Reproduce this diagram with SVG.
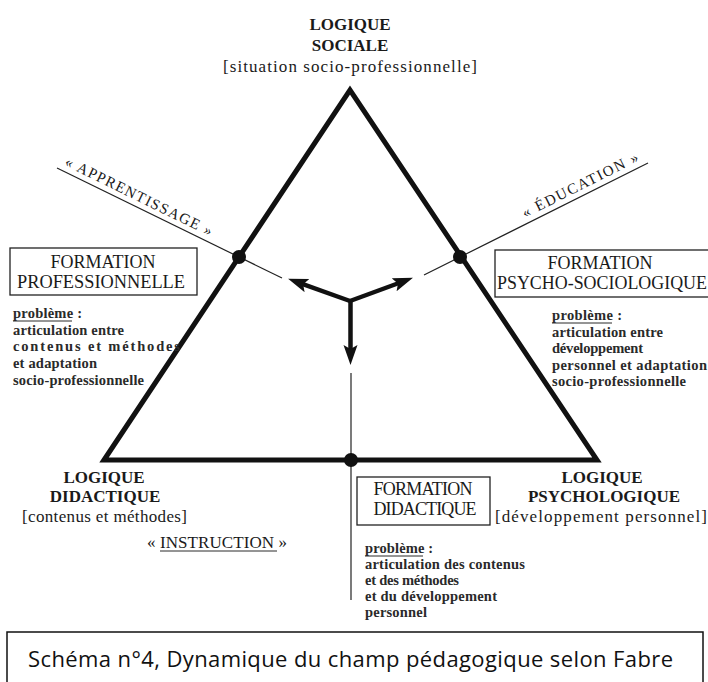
<svg xmlns="http://www.w3.org/2000/svg" width="708" height="682" viewBox="0 0 708 682">
<style>
.lab{font-family:"Liberation Serif","Times New Roman",serif;font-weight:bold;font-size:17px;fill:#1a1a1a;text-anchor:middle}
.br{font-family:"Liberation Serif","Times New Roman",serif;font-size:17px;fill:#1a1a1a}
.box{fill:none;stroke:#222;stroke-width:1.3}
.bt{font-family:"Liberation Serif","Times New Roman",serif;font-size:18px;fill:#1a1a1a;text-anchor:middle}
.pb{font-family:"Liberation Serif","Times New Roman",serif;font-size:14.5px;font-weight:bold;fill:#2a2a2a}
.thin{stroke:#222;stroke-width:1.2;fill:none}
.ul{stroke:#2a2a2a;stroke-width:1}
.rot{font-family:"Liberation Serif","Times New Roman",serif;font-size:15px;fill:#1a1a1a}
.arr{stroke:#111;stroke-width:4.5;fill:none}
.dot{fill:#111}
</style>
<defs>
<marker id="ah" markerUnits="userSpaceOnUse" markerWidth="22" markerHeight="16" refX="8" refY="7" orient="auto">
<path d="M0,0 L20,7 L0,14 L4,7 z" fill="#111"/>
</marker>
</defs>
<rect width="708" height="682" fill="#fff"/>

<g id="connectors">
<line class="thin" x1="57" y1="168" x2="282" y2="278"/>
<line class="thin" x1="648" y1="163" x2="424" y2="275"/>
<line class="thin" x1="351" y1="373" x2="351" y2="600"/>
<line class="arr" x1="350" y1="301" x2="299.4" y2="282.9" marker-end="url(#ah)"/>
<line class="arr" x1="350" y1="301" x2="401.7" y2="282" marker-end="url(#ah)"/>
<line class="arr" x1="350.5" y1="299" x2="350.5" y2="353" marker-end="url(#ah)"/>
</g>

<g id="triangle">
<path d="M104,460 L350,90 L597,460 Z" fill="none" stroke="#111" stroke-width="5" stroke-linejoin="miter"/>
<circle class="dot" cx="239" cy="257" r="7"/>
<circle class="dot" cx="460" cy="257" r="7"/>
<circle class="dot" cx="351" cy="460" r="7"/>
</g>

<g id="logique-sociale">
<text class="lab" x="350" y="30">LOGIQUE</text>
<text class="lab" x="350" y="51">SOCIALE</text>
<text class="br" x="223" y="72" textLength="254" lengthAdjust="spacing">[situation socio-professionnelle]</text>
</g>

<g id="apprentissage">
<text class="rot" x="64" y="165" transform="rotate(26.1 64 165)" textLength="162" lengthAdjust="spacing">« APPRENTISSAGE »</text>
</g>

<g id="education">
<text class="rot" x="525" y="218" transform="rotate(-26.6 525 218)" textLength="128" lengthAdjust="spacing">« ÉDUCATION »</text>
</g>

<g id="formation-professionnelle">
<rect class="box" x="10" y="248" width="187" height="47"/>
<text class="bt" x="103" y="268">FORMATION</text>
<text class="bt" x="101" y="288" textLength="168" lengthAdjust="spacingAndGlyphs">PROFESSIONNELLE</text>
<text class="pb" x="13" y="318" textLength="69" lengthAdjust="spacing">problème :</text>
<line class="ul" x1="13" y1="321" x2="72" y2="321"/>
<text class="pb" x="13" y="335" textLength="111" lengthAdjust="spacing">articulation entre</text>
<text class="pb" x="13" y="351" textLength="167" lengthAdjust="spacing">contenus et méthodes</text>
<text class="pb" x="13" y="368" textLength="84" lengthAdjust="spacing">et adaptation</text>
<text class="pb" x="13" y="385" textLength="131" lengthAdjust="spacing">socio-professionnelle</text>
</g>

<g id="formation-psycho-sociologique">
<rect class="box" x="495" y="250" width="225" height="47"/>
<text class="bt" x="600" y="269">FORMATION</text>
<text class="bt" x="602" y="289" textLength="210" lengthAdjust="spacingAndGlyphs">PSYCHO-SOCIOLOGIQUE</text>
<text class="pb" x="552" y="320" textLength="70" lengthAdjust="spacing">problème :</text>
<line class="ul" x1="552" y1="323" x2="612" y2="323"/>
<text class="pb" x="552" y="337" textLength="111" lengthAdjust="spacing">articulation entre</text>
<text class="pb" x="552" y="353" textLength="91" lengthAdjust="spacing">développement</text>
<text class="pb" x="552" y="370" textLength="155" lengthAdjust="spacing">personnel et adaptation</text>
<text class="pb" x="552" y="386" textLength="134" lengthAdjust="spacing">socio-professionnelle</text>
</g>

<g id="logique-didactique">
<text class="lab" x="104" y="483">LOGIQUE</text>
<text class="lab" x="105" y="502">DIDACTIQUE</text>
<text class="br" x="22" y="522" font-size="16" textLength="165" lengthAdjust="spacing">[contenus et méthodes]</text>
</g>

<g id="instruction">
<text class="br" x="147" y="548" textLength="140" lengthAdjust="spacing">« INSTRUCTION »</text>
<line class="ul" x1="160" y1="551" x2="277" y2="551"/>
</g>

<g id="formation-didactique">
<rect class="box" x="357" y="477" width="133" height="48"/>
<text class="bt" x="423" y="495" textLength="99" lengthAdjust="spacing">FORMATION</text>
<text class="bt" x="425" y="515" textLength="103" lengthAdjust="spacing">DIDACTIQUE</text>
<text class="pb" x="365" y="553" textLength="68" lengthAdjust="spacing">problème :</text>
<line class="ul" x1="365" y1="556" x2="423" y2="556"/>
<text class="pb" x="365" y="569" textLength="160" lengthAdjust="spacing">articulation des contenus</text>
<text class="pb" x="365" y="585" textLength="94" lengthAdjust="spacing">et des méthodes</text>
<text class="pb" x="365" y="601" textLength="132" lengthAdjust="spacing">et du développement</text>
<text class="pb" x="365" y="617" textLength="62" lengthAdjust="spacing">personnel</text>
</g>

<g id="logique-psychologique">
<text class="lab" x="602" y="483">LOGIQUE</text>
<text class="lab" x="604" y="502">PSYCHOLOGIQUE</text>
<text class="br" x="495" y="522" font-size="16" textLength="212" lengthAdjust="spacing">[développement personnel]</text>
</g>

<g id="caption">
<rect x="7" y="632" width="696" height="60" fill="#fff" stroke="#111" stroke-width="1.5"/>
<text x="28" y="667" font-family="'Open Sans','Noto Sans',sans-serif" font-size="22" fill="#111" textLength="645" lengthAdjust="spacing">Schéma n°4, Dynamique du champ pédagogique selon Fabre</text>
</g>
</svg>
